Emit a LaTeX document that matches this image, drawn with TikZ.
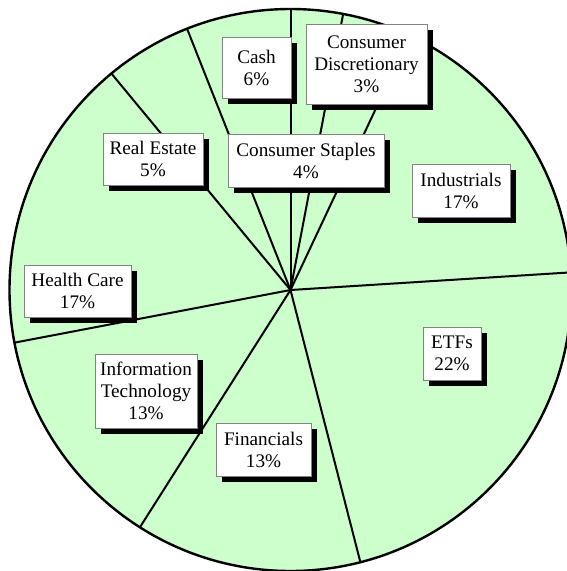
\documentclass[tikz,border=0pt]{standalone}
\usepackage{fontspec}
\setmainfont{Liberation Serif}
\usetikzlibrary{shadows,calc}
\definecolor{piegreen}{RGB}{204,255,204}
\definecolor{boxedge}{RGB}{130,130,130}
\tikzset{
  slice/.style={line width=2pt, black},
  lbl/.style={draw=boxedge, line width=0.8pt, fill=white, align=center, inner sep=0pt,
    font=\fontsize{19.2}{22}\selectfont,
    general shadow={fill=black, shadow xshift=6pt, shadow yshift=-6pt}},
}
\begin{document}
\begin{tikzpicture}[x=1pt,y=-1pt]
\useasboundingbox (0,0) rectangle (567,571);
\coordinate (c) at (290.5,290);
\fill[piegreen] (c) circle[radius=281pt];
\foreach \a/\n in {90/p1,79.2/p2,64.8/p3,3.6/p4,-75.6/p5,-122.4/p6,-169.2/p7,129.6/p8,111.6/p9}{
  \coordinate (\n) at ($(c)+(-\a:281)$);
}
\foreach \n in {p1,p2,p3,p4,p5,p6,p7,p8,p9}{
  \draw[slice] (c) -- (\n);
}
\draw[line width=2.4pt] (c) circle[radius=281pt];
\node[lbl, minimum width=69pt, minimum height=61pt] (cash) at (256.5,67.5) {Cash\\6\%};
\node[lbl, minimum width=121pt, minimum height=80pt] (disc) at (366.5,64) {Consumer\\Discretionary\\3\%};
\node[lbl, minimum width=156pt, minimum height=53pt] (stap) at (306,160.5) {Consumer Staples\\4\%};
\node[lbl, minimum width=98pt, minimum height=53pt] (ind) at (461,190.5) {Industrials\\17\%};
\node[lbl, minimum width=58pt, minimum height=53pt] (etf) at (452,353.5) {ETFs\\22\%};
\node[lbl, minimum width=95pt, minimum height=53pt] (fin) at (263.5,449.5) {Financials\\13\%};
\node[lbl, minimum width=102pt, minimum height=74pt] (it) at (146,391) {Information\\Technology\\13\%};
\node[lbl, minimum width=107pt, minimum height=52pt] (hc) at (77.5,291) {Health Care\\17\%};
\node[lbl, minimum width=100pt, minimum height=52pt] (re) at (153,159) {Real Estate\\5\%};
\end{tikzpicture}
\end{document}
